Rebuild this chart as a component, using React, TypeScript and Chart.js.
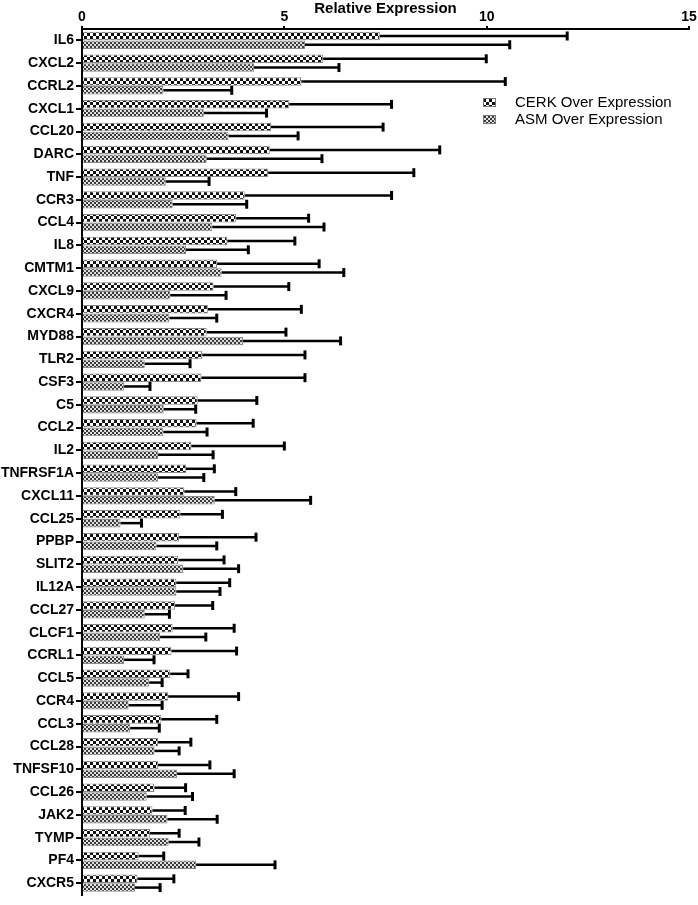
import React, { useEffect, useRef } from "react";
import { Chart, registerables } from "chart.js";
Chart.register(...registerables);

const categories = [
  "IL6", "CXCL2", "CCRL2", "CXCL1", "CCL20", "DARC", "TNF", "CCR3", "CCL4", "IL8",
  "CMTM1", "CXCL9", "CXCR4", "MYD88", "TLR2", "CSF3", "C5", "CCL2", "IL2", "TNFRSF1A",
  "CXCL11", "CCL25", "PPBP", "SLIT2", "IL12A", "CCL27", "CLCF1", "CCRL1", "CCL5", "CCR4",
  "CCL3", "CCL28", "TNFSF10", "CCL26", "JAK2", "TYMP", "PF4", "CXCR5",
];

const cerkValues = [
  7.36, 5.96, 5.42, 5.12, 4.67, 4.64, 4.6, 4.02, 3.81, 3.59,
  3.34, 3.25, 3.11, 3.08, 2.97, 2.95, 2.86, 2.83, 2.7, 2.57,
  2.53, 2.43, 2.4, 2.38, 2.33, 2.3, 2.24, 2.21, 2.18, 2.13,
  1.96, 1.88, 1.88, 1.79, 1.74, 1.68, 1.4, 1.37,
];
const cerkErrors = [
  4.63, 4.03, 5.04, 2.53, 2.77, 4.2, 3.6, 3.63, 1.79, 1.67,
  2.52, 1.86, 2.31, 1.96, 2.54, 2.56, 1.46, 1.4, 2.3, 0.7,
  1.27, 1.04, 1.9, 1.13, 1.32, 0.93, 1.52, 1.61, 0.44, 1.74,
  1.37, 0.81, 1.28, 0.77, 0.81, 0.72, 0.62, 0.9,
];
const asmValues = [
  5.51, 4.25, 2.01, 3.01, 3.62, 3.08, 2.07, 2.24, 3.22, 2.57,
  3.45, 2.18, 2.16, 3.98, 1.55, 1.04, 2.02, 2.01, 1.88, 1.88,
  3.28, 0.95, 1.84, 2.5, 2.33, 1.55, 1.93, 1.04, 1.66, 1.15,
  1.19, 1.79, 2.35, 1.6, 2.11, 2.14, 2.82, 1.31,
];
const asmErrors = [
  5.06, 2.1, 1.69, 1.55, 1.72, 2.85, 1.07, 1.83, 2.76, 1.54,
  3.02, 1.38, 1.17, 2.41, 1.12, 0.64, 0.79, 1.08, 1.36, 1.13,
  2.37, 0.52, 1.49, 1.37, 1.08, 0.61, 1.13, 0.74, 0.32, 0.83,
  0.72, 0.61, 1.41, 1.13, 1.23, 0.75, 1.95, 0.62,
];

const seriesNames = ["CERK Over Expression", "ASM Over Expression"];
const xMin = 0;
const xMax = 15;
const xStep = 5;
const axisTitle = "Relative Expression";

const FONT = "'Liberation Sans', Arial, sans-serif";

function makeChecker(size: number, dark: string, light: string): CanvasPattern | string {
  const c = document.createElement("canvas");
  c.width = size * 2;
  c.height = size * 2;
  const g = c.getContext("2d");
  if (!g) return dark;
  g.fillStyle = light;
  g.fillRect(0, 0, size * 2, size * 2);
  g.fillStyle = dark;
  g.fillRect(0, 0, size, size);
  g.fillRect(size, size, size, size);
  return g.createPattern(c, "repeat") || dark;
}

const errorBarPlugin = {
  id: "errorBars",
  afterDatasetsDraw(chart: any) {
    const ctx = chart.ctx;
    const xs = chart.scales.x;
    chart.data.datasets.forEach((ds: any, i: number) => {
      const meta = chart.getDatasetMeta(i);
      meta.data.forEach((bar: any, j: number) => {
        const v = ds.data[j];
        const e = ds.errors[j];
        const x0 = xs.getPixelForValue(v);
        const x1 = xs.getPixelForValue(v + e);
        const y = bar.y;
        ctx.save();
        ctx.strokeStyle = "#000";
        ctx.lineWidth = 2.5;
        ctx.beginPath();
        ctx.moveTo(x0, y);
        ctx.lineTo(x1, y);
        ctx.stroke();
        ctx.lineWidth = 3;
        ctx.beginPath();
        ctx.moveTo(x1, y - 4.5);
        ctx.lineTo(x1, y + 4.5);
        ctx.stroke();
        ctx.restore();
      });
    });
  },
};

const legendPlugin = {
  id: "insideLegend",
  afterDraw(chart: any) {
    const ctx = chart.ctx;
    const area = chart.chartArea;
    const x = area.right - 206;
    const y0 = area.top + 74;
    ctx.save();
    chart.data.datasets.forEach((ds: any, i: number) => {
      const cy = y0 + i * 17;
      ctx.fillStyle = ds.backgroundColor;
      ctx.fillRect(x, cy - 5, 13, 9);
      ctx.strokeStyle = "#777";
      ctx.lineWidth = 1;
      ctx.strokeRect(x + 0.5, cy - 4.5, 12, 8);
      ctx.fillStyle = "#000";
      ctx.font = `15px ${FONT}`;
      ctx.textBaseline = "middle";
      ctx.textAlign = "left";
      ctx.fillText(ds.label, x + 32, cy);
    });
    ctx.restore();
  },
};

export default function App() {
  const ref = useRef<HTMLCanvasElement | null>(null);

  useEffect(() => {
    document.body.style.margin = "0";
    const canvas = ref.current;
    if (!canvas) return;
    const cerkPattern = makeChecker(3, "#111", "#fff");
    const asmPattern = makeChecker(2, "#3a3a3a", "#e0e0e0");

    const chart = new Chart(canvas, {
      type: "bar",
      data: {
        labels: categories,
        datasets: [
          {
            label: seriesNames[0],
            data: cerkValues,
            errors: cerkErrors,
            backgroundColor: cerkPattern as any,
            borderColor: "#888",
            borderWidth: 1,
            categoryPercentage: 0.77,
            barPercentage: 0.97,
          } as any,
          {
            label: seriesNames[1],
            data: asmValues,
            errors: asmErrors,
            backgroundColor: asmPattern as any,
            borderColor: "#888",
            borderWidth: 1,
            categoryPercentage: 0.77,
            barPercentage: 0.97,
          } as any,
        ],
      },
      options: {
        indexAxis: "y",
        animation: false,
        responsive: false,
        maintainAspectRatio: false,
        layout: { padding: { top: 0, right: 9, bottom: 2, left: 0 } },
        plugins: {
          legend: { display: false },
          tooltip: { enabled: false },
        },
        scales: {
          x: {
            position: "top",
            min: xMin,
            max: xMax,
            ticks: {
              stepSize: xStep,
              color: "#000",
              padding: 0,
              font: { family: FONT, size: 14, weight: "bold" },
            },
            grid: {
              drawOnChartArea: false,
              color: "#000",
              lineWidth: 2,
              tickLength: 3,
            },
            border: { display: true, color: "#000", width: 2 },
            title: {
              display: true,
              text: axisTitle,
              color: "#000",
              padding: { top: 0, bottom: 0 },
              font: { family: FONT, size: 15, weight: "bold" },
            },
            afterFit: (s: any) => {
              s.height = 29;
            },
          },
          y: {
            ticks: {
              color: "#000",
              padding: 2,
              autoSkip: false,
              font: { family: FONT, size: 14, weight: "bold" },
            },
            grid: {
              drawOnChartArea: false,
              color: "#000",
              lineWidth: 2,
              tickLength: 6,
              offset: false,
            },
            border: { display: true, color: "#000", width: 2 },
            afterFit: (s: any) => {
              s.width = 82;
            },
          },
        },
      } as any,
      plugins: [errorBarPlugin, legendPlugin],
    });
    return () => chart.destroy();
  }, []);

  return (
    <div style={{ position: "absolute", left: 0, top: 0, width: 698, height: 905 }}>
      <canvas ref={ref} width={698} height={905} style={{ width: 698, height: 905, display: "block" }} />
    </div>
  );
}
